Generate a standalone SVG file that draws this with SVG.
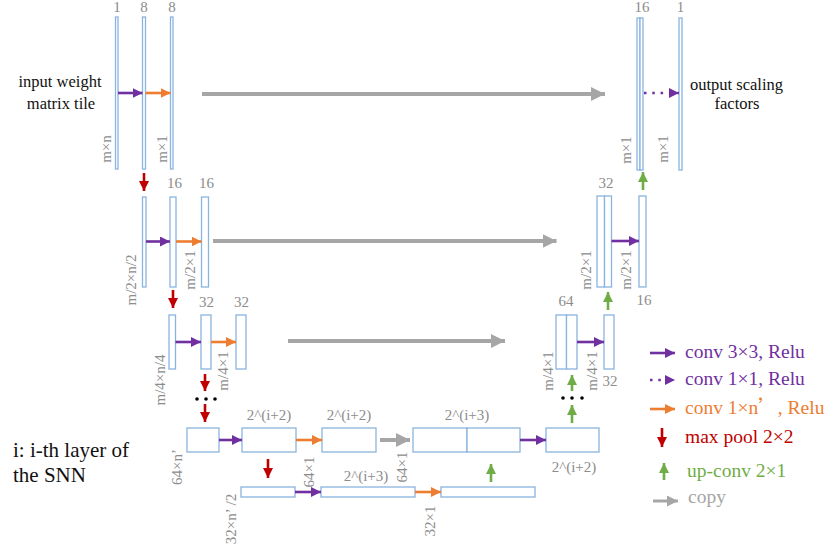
<svg xmlns="http://www.w3.org/2000/svg" width="840" height="560" viewBox="0 0 840 560">
<style>
.bar{fill:#fff;stroke:#8AB4E0;stroke-width:1.3}
.lbl{font-family:"Liberation Serif","Times New Roman",serif;font-size:15px;fill:#8c8c8c}
.blk{font-family:"Liberation Serif","Times New Roman",serif;fill:#111}
.leg{font-family:"Liberation Serif","Times New Roman",serif;font-size:19.5px}
.p{stroke:#7030A0;stroke-width:2.6;fill:none}
.o{stroke:#ED7D31;stroke-width:2.6;fill:none}
.r{stroke:#C00000;stroke-width:2.6;fill:none}
.g{stroke:#70AD47;stroke-width:2.6;fill:none}
.c{stroke:#A6A6A6;stroke-width:4;fill:none}
</style>
<defs>
<marker id="mp" markerUnits="userSpaceOnUse" markerWidth="10" markerHeight="10" viewBox="0 0 10 10" refX="10" refY="5" orient="auto"><path d="M0,0L10,5L0,10z" fill="#7030A0"/></marker>
<marker id="mo" markerUnits="userSpaceOnUse" markerWidth="10" markerHeight="10" viewBox="0 0 10 10" refX="10" refY="5" orient="auto"><path d="M0,0L10,5L0,10z" fill="#ED7D31"/></marker>
<marker id="mr" markerUnits="userSpaceOnUse" markerWidth="10" markerHeight="10" viewBox="0 0 10 10" refX="10" refY="5" orient="auto"><path d="M0,0L10,5L0,10z" fill="#C00000"/></marker>
<marker id="mg" markerUnits="userSpaceOnUse" markerWidth="10" markerHeight="10" viewBox="0 0 10 10" refX="10" refY="5" orient="auto"><path d="M0,0L10,5L0,10z" fill="#70AD47"/></marker>
<marker id="mc" markerUnits="userSpaceOnUse" markerWidth="14" markerHeight="14" viewBox="0 0 14 14" refX="14" refY="7" orient="auto"><path d="M0,0L14,7L0,14z" fill="#A6A6A6"/></marker>
<marker id="mcs" markerUnits="userSpaceOnUse" markerWidth="11" markerHeight="11" viewBox="0 0 11 11" refX="11" refY="5.5" orient="auto"><path d="M0,0L11,5.5L0,11z" fill="#A6A6A6"/></marker>
</defs>

<!-- Row 1 -->
<g id="r1-in"><rect class="bar" x="115.5" y="17" width="2.5" height="152"/><text class="lbl" x="117" y="12" text-anchor="middle">1</text><text class="lbl" transform="translate(111,149) rotate(-90)" text-anchor="middle">m×n</text></g>
<g id="r1-a"><rect class="bar" x="142.5" y="17" width="3" height="152"/><text class="lbl" x="144" y="12" text-anchor="middle">8</text></g>
<g id="r1-b"><rect class="bar" x="170.5" y="17" width="2.5" height="152"/><text class="lbl" x="172" y="12" text-anchor="middle">8</text><text class="lbl" transform="translate(166.5,149) rotate(-90)" text-anchor="middle">m×1</text></g>
<g id="r1-c"><rect class="bar" x="637" y="18" width="3" height="152"/><rect class="bar" x="640" y="18" width="3" height="152"/><text class="lbl" x="642" y="12" text-anchor="middle">16</text><text class="lbl" transform="translate(631,150) rotate(-90)" text-anchor="middle">m×1</text></g>
<g id="r1-out"><rect class="bar" x="679" y="18" width="3" height="152"/><text class="lbl" x="680.5" y="12" text-anchor="middle">1</text><text class="lbl" transform="translate(668,149) rotate(-90)" text-anchor="middle">m×1</text></g>
<g id="txt-in"><text class="blk" font-size="16.5" x="60" y="87" text-anchor="middle">input weight</text><text class="blk" font-size="16.5" x="61" y="109" text-anchor="middle">matrix tile</text></g>
<g id="txt-out"><text class="blk" font-size="16.5" x="736.5" y="90" text-anchor="middle">output scaling</text><text class="blk" font-size="16.5" x="737" y="109" text-anchor="middle">factors</text></g>

<!-- Row 2 -->
<g id="r2-a"><rect class="bar" x="142.5" y="197" width="3.5" height="90"/><text class="lbl" transform="translate(136,280) rotate(-90)" text-anchor="middle">m/2×n/2</text></g>
<g id="r2-b"><rect class="bar" x="170" y="197" width="6" height="90"/><text class="lbl" x="174.5" y="188" text-anchor="middle">16</text></g>
<g id="r2-c"><rect class="bar" x="201.5" y="197" width="7" height="90"/><text class="lbl" x="206.5" y="188" text-anchor="middle">16</text><text class="lbl" transform="translate(195,270) rotate(-90)" text-anchor="middle">m/2×1</text></g>
<g id="r2-d"><rect class="bar" x="597" y="196" width="7.5" height="91"/><rect class="bar" x="604.5" y="196" width="7" height="91"/><text class="lbl" x="606" y="188" text-anchor="middle">32</text><text class="lbl" transform="translate(591,270) rotate(-90)" text-anchor="middle">m/2×1</text></g>
<g id="r2-e"><rect class="bar" x="639" y="196" width="7" height="91"/><text class="lbl" x="644" y="305" text-anchor="middle">16</text><text class="lbl" transform="translate(631,270) rotate(-90)" text-anchor="middle">m/2×1</text></g>

<!-- Row 3 -->
<g id="r3-a"><rect class="bar" x="169" y="315" width="6.5" height="54"/><text class="lbl" transform="translate(165,380) rotate(-90)" text-anchor="middle">m/4×n/4</text></g>
<g id="r3-b"><rect class="bar" x="201" y="315" width="10" height="54"/><text class="lbl" x="206.5" y="307" text-anchor="middle">32</text></g>
<g id="r3-c"><rect class="bar" x="236" y="315" width="10" height="54"/><text class="lbl" x="241.5" y="307" text-anchor="middle">32</text><text class="lbl" transform="translate(228,371) rotate(-90)" text-anchor="middle">m/4×1</text></g>
<g id="r3-d"><rect class="bar" x="556" y="315" width="10.5" height="54"/><rect class="bar" x="566.5" y="315" width="10.5" height="54"/><text class="lbl" x="566" y="306" text-anchor="middle">64</text><text class="lbl" transform="translate(553,371) rotate(-90)" text-anchor="middle">m/4×1</text></g>
<g id="r3-e"><rect class="bar" x="604" y="315" width="10" height="54"/><text class="lbl" x="610" y="386" text-anchor="middle">32</text><text class="lbl" transform="translate(597,371) rotate(-90)" text-anchor="middle">m/4×1</text></g>

<!-- dots -->
<g id="dots-l" fill="#000"><circle cx="197" cy="399" r="1.8"/><circle cx="206" cy="399" r="1.8"/><circle cx="215" cy="399" r="1.8"/></g>
<g id="dots-r" fill="#000"><circle cx="563" cy="398" r="1.8"/><circle cx="572" cy="398" r="1.8"/><circle cx="582" cy="398" r="1.8"/></g>

<!-- Row 4 -->
<g id="b1"><rect class="bar" x="187" y="428" width="32" height="24"/><text class="lbl" transform="translate(182,467) rotate(-90)" text-anchor="middle">64×n’</text></g>
<g id="b2"><rect class="bar" x="242" y="428" width="54" height="24"/><text class="lbl" x="269" y="420" text-anchor="middle">2^(i+2)</text></g>
<g id="b3"><rect class="bar" x="322" y="428" width="54" height="24"/><text class="lbl" x="349" y="420" text-anchor="middle">2^(i+2)</text><text class="lbl" transform="translate(314,472) rotate(-90)" text-anchor="middle">64×1</text></g>
<g id="b4"><rect class="bar" x="413" y="428" width="54" height="24"/><rect class="bar" x="467" y="428" width="53" height="24"/><text class="lbl" x="467" y="420" text-anchor="middle">2^(i+3)</text><text class="lbl" transform="translate(407,467) rotate(-90)" text-anchor="middle">64×1</text></g>
<g id="b5"><rect class="bar" x="546" y="428" width="53" height="24"/><text class="lbl" x="574" y="472" text-anchor="middle">2^(i+2)</text></g>
<g id="c1"><rect class="bar" x="241" y="487" width="54" height="10"/><text class="lbl" transform="translate(236,519) rotate(-90)" text-anchor="middle">32×n’ /2</text></g>
<g id="c2"><rect class="bar" x="321" y="487" width="94" height="10"/><text class="lbl" x="366" y="481" text-anchor="middle">2^(i+3)</text></g>
<g id="c3"><rect class="bar" x="441" y="487" width="94" height="10"/><text class="lbl" transform="translate(435,521) rotate(-90)" text-anchor="middle">32×1</text></g>

<g id="note"><text class="blk" font-size="21" x="13" y="457">i: i-th layer of</text><text class="blk" font-size="21" x="13" y="482">the SNN</text></g>

<!-- connectors -->
<g id="connectors">
<line class="p" x1="118" y1="93" x2="142.5" y2="93" marker-end="url(#mp)"/>
<line class="o" x1="145.5" y1="93" x2="170.5" y2="93" marker-end="url(#mo)"/>
<line class="c" x1="202" y1="94" x2="605" y2="94" marker-end="url(#mc)"/>
<line class="p" x1="644" y1="93" x2="679" y2="93" stroke-dasharray="2.5 5.8" marker-end="url(#mp)"/>
<line class="r" x1="144" y1="173" x2="144" y2="191" marker-end="url(#mr)"/>
<line class="g" x1="643" y1="190" x2="643" y2="172" marker-end="url(#mg)"/>

<line class="p" x1="146" y1="241.5" x2="170" y2="241.5" marker-end="url(#mp)"/>
<line class="o" x1="176" y1="241.5" x2="201.5" y2="241.5" marker-end="url(#mo)"/>
<line class="c" x1="213" y1="241" x2="556.5" y2="241" marker-end="url(#mc)"/>
<line class="p" x1="611.5" y1="241" x2="639" y2="241" marker-end="url(#mp)"/>
<line class="r" x1="173" y1="290" x2="173" y2="308" marker-end="url(#mr)"/>
<line class="g" x1="608" y1="310" x2="608" y2="292" marker-end="url(#mg)"/>

<line class="p" x1="175.5" y1="342" x2="201" y2="342" marker-end="url(#mp)"/>
<line class="o" x1="211" y1="342" x2="236" y2="342" marker-end="url(#mo)"/>
<line class="c" x1="288" y1="341" x2="505" y2="341" marker-end="url(#mc)"/>
<line class="p" x1="577" y1="342" x2="604" y2="342" marker-end="url(#mp)"/>
<line class="r" x1="205" y1="374" x2="205" y2="391" marker-end="url(#mr)"/>
<line class="g" x1="572" y1="391" x2="572" y2="375" marker-end="url(#mg)"/>

<line class="r" x1="205" y1="404" x2="205" y2="422" marker-end="url(#mr)"/>
<line class="g" x1="572" y1="423" x2="572" y2="405" marker-end="url(#mg)"/>
<line class="p" x1="219" y1="440" x2="242" y2="440" marker-end="url(#mp)"/>
<line class="o" x1="296" y1="440" x2="322" y2="440" marker-end="url(#mo)"/>
<line class="c" x1="380" y1="440" x2="410" y2="440" marker-end="url(#mc)"/>
<line class="p" x1="520" y1="440" x2="546" y2="440" marker-end="url(#mp)"/>
<line class="r" x1="268" y1="459" x2="268" y2="478" marker-end="url(#mr)"/>
<line class="p" x1="295" y1="492" x2="321" y2="492" marker-end="url(#mp)"/>
<line class="o" x1="415" y1="492" x2="441" y2="492" marker-end="url(#mo)"/>
<line class="g" x1="491" y1="482" x2="491" y2="464" marker-end="url(#mg)"/>
</g>

<!-- legend -->
<g id="legend">
<line class="p" x1="650" y1="353" x2="675" y2="353" marker-end="url(#mp)"/>
<text class="leg" x="685" y="358" fill="#7030A0">conv 3×3, Relu</text>
<line class="p" x1="650" y1="380" x2="675" y2="380" stroke-dasharray="2.5 5.8" marker-end="url(#mp)"/>
<text class="leg" x="685" y="385" fill="#7030A0">conv 1×1, Relu</text>
<line class="o" x1="650" y1="409" x2="675" y2="409" marker-end="url(#mo)"/>
<text class="leg" x="685" y="414" fill="#ED7D31">conv 1×n<tspan font-family="'Noto Sans CJK SC',sans-serif">’</tspan>, Relu</text>
<line class="r" x1="662" y1="428" x2="662" y2="447" marker-end="url(#mr)"/>
<text class="leg" x="685" y="443" fill="#C00000">max pool 2×2</text>
<line class="g" x1="664" y1="480" x2="664" y2="463" marker-end="url(#mg)"/>
<text class="leg" x="687" y="477" fill="#70AD47">up-conv 2×1</text>
<line x1="653" y1="501" x2="678" y2="501" stroke="#A6A6A6" stroke-width="3" marker-end="url(#mcs)"/>
<text class="leg" x="688" y="503" fill="#A6A6A6">copy</text>
</g>
</svg>
